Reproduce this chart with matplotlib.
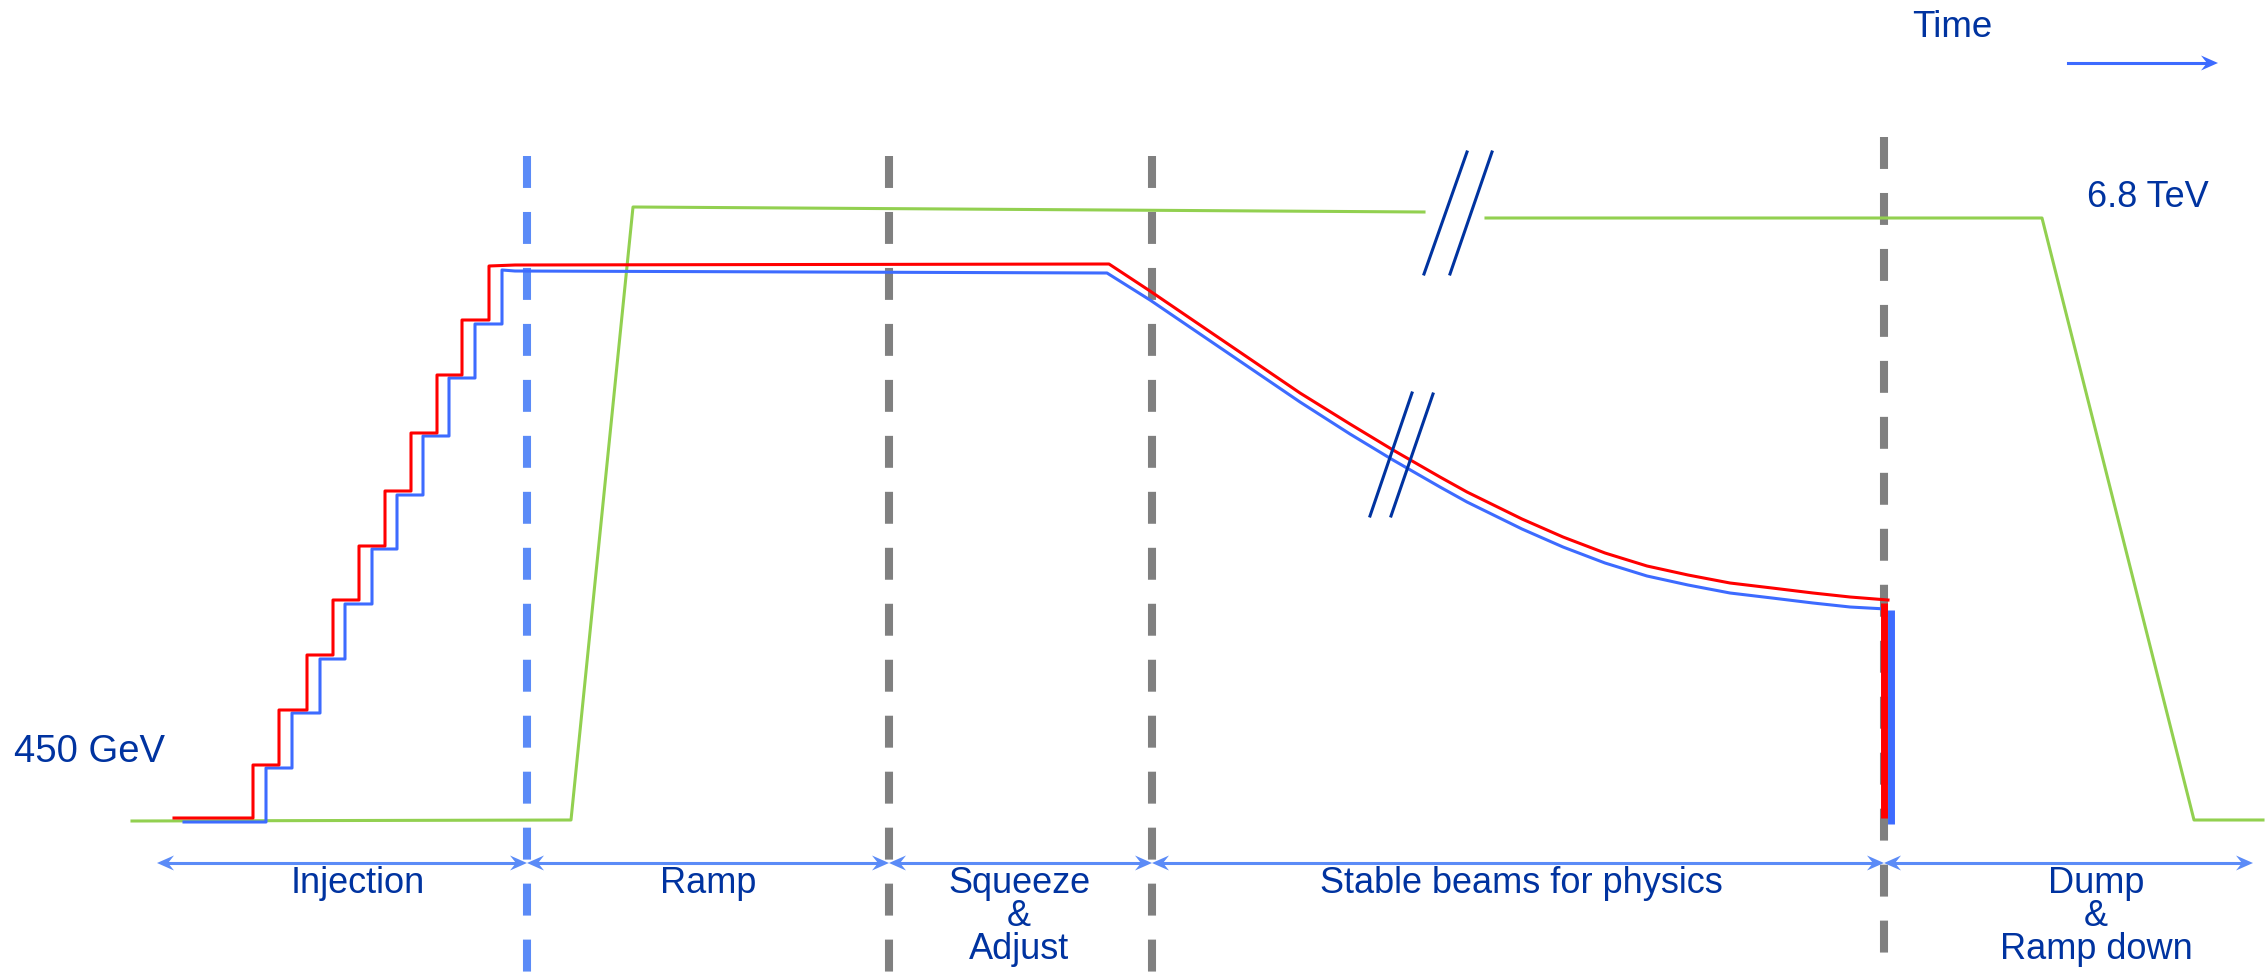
import matplotlib
matplotlib.use('Agg')
import matplotlib.pyplot as plt

plt.rcParams['font.family'] = ['Liberation Sans', 'DejaVu Sans']
plt.rcParams['lines.scale_dashes'] = False

# schematic of an LHC fill, drawn in picture units (x = time, y = downwards)
TXT = '#0033A0'
GREEN = '#92D050'
RED = '#FF0000'
BLUE = '#3D6BFF'
LBLUE = '#5B8BF7'
GRAY = '#808080'

# magnet energy (green), split by the time break
energy_a_x = [132, 571, 633, 1424]
energy_a_y = [821, 820, 207, 212]
energy_b_x = [1486, 2042, 2194, 2263]
energy_b_y = [218, 218, 820, 820]

# injection staircases
red_start = 174
red_risers = [253, 279, 307, 333, 359, 385, 411, 437, 462, 489]
red_levels = [818, 765, 710, 655, 600, 546, 491, 433, 375, 320, 266]
blue_start = 184
blue_risers = [266, 292, 320, 345, 372, 397, 423, 449, 475, 502]
blue_levels = [822, 768, 713, 659, 604, 549, 495, 436, 378, 324, 270]

# intensity through ramp, squeeze and stable beams
red_decay_x = [515, 1109, 1150, 1200, 1250, 1300, 1350, 1393, 1440, 1467, 1522,
               1563, 1605, 1647, 1688, 1730, 1772, 1813, 1850, 1888]
red_decay_y = [265, 264, 291, 325, 359, 393, 424, 450, 477, 492, 519,
               537, 553, 566, 575, 583, 588, 593, 597, 600]
blue_decay_x = [515, 1107, 1150, 1200, 1250, 1300, 1350, 1393, 1440, 1467, 1522,
                1563, 1605, 1647, 1688, 1730, 1772, 1813, 1850, 1886]
blue_decay_y = [271, 273, 300, 334, 368, 402, 434, 460, 487, 502, 529,
                547, 563, 576, 585, 593, 598, 603, 607, 609]

# beam dump
dump_red = (1884, 603, 818)
dump_blue = (1891, 610, 824)

# phase boundaries
phase_x = [527, 889, 1152, 1884]
phase_top = [156, 156, 156, 137]
phase_bottom = [973, 973, 973, 954]
phase_col = [LBLUE, GRAY, GRAY, GRAY]

phase_edges = [157, 527, 889, 1152, 1884, 2253]
phase_names = [['Injection'], ['Ramp'], ['Squeeze', '&', 'Adjust'],
               ['Stable beams for physics'], ['Dump', '&', 'Ramp down']]
label_x = [358, 708, 1019, 1521, 2096]
arrow_y = 863

# break marks
breaks = [((1424, 274), (1467, 152)), ((1450, 274), (1492, 152)),
          ((1370, 516), (1412, 393)), ((1391, 516), (1433, 394))]


def staircase(start, risers, levels):
    xs = [start]
    ys = [levels[0]]
    for i, r in enumerate(risers):
        xs += [r, r]
        ys += [levels[i], levels[i + 1]]
    return xs, ys


def head(ax, x, y, d, color, L=17, W=7.5):
    # stealth style arrow head pointing in direction d (+1 right, -1 left)
    ax.fill([x, x - d * L, x - d * 0.65 * L, x - d * L],
            [y, y - W, y, y + W], color=color, lw=0, zorder=6)


fig = plt.figure(figsize=(22.67, 9.73), dpi=100)
ax = fig.add_axes([0, 0, 1, 1])
ax.set_xlim(0, 2267)
ax.set_ylim(973, 0)
ax.axis('off')

for x, t, b, c in zip(phase_x, phase_top, phase_bottom, phase_col):
    ax.plot([x, x], [t, b], color=c, lw=5.8, dashes=(23, 17.3),
            solid_capstyle='butt', dash_capstyle='butt', zorder=1)

ax.plot(energy_a_x, energy_a_y, color=GREEN, lw=2.2, zorder=2)
ax.plot(energy_b_x, energy_b_y, color=GREEN, lw=2.2, zorder=2)

rx, ry = staircase(red_start, red_risers, red_levels)
bx, by = staircase(blue_start, blue_risers, blue_levels)
ax.plot(bx + blue_decay_x, by + blue_decay_y, color=BLUE, lw=2.2,
        solid_joinstyle='round', zorder=3)
ax.plot(rx + red_decay_x, ry + red_decay_y, color=RED, lw=2.2,
        solid_joinstyle='round', zorder=4)

ax.plot([dump_blue[0]] * 2, dump_blue[1:], color=BLUE, lw=5, solid_capstyle='butt', zorder=3)
ax.plot([dump_red[0]] * 2, dump_red[1:], color=RED, lw=5, solid_capstyle='butt', zorder=4)

for (x0, y0), (x1, y1) in breaks:
    ax.plot([x0, x1], [y0, y1], color=TXT, lw=2.2, zorder=5)

for i in range(len(phase_names)):
    x0, x1 = phase_edges[i], phase_edges[i + 1]
    ax.plot([x0 + 8, x1 - 8], [arrow_y, arrow_y], color=LBLUE, lw=2.2, zorder=5)
    head(ax, x0, arrow_y, -1, LBLUE)
    head(ax, x1, arrow_y, 1, LBLUE)
    for j, line in enumerate(phase_names[i]):
        ax.text(label_x[i], 893 + 33 * j, line, ha='center', va='baseline',
                fontsize=26, color=TXT)

ax.text(14, 762, '450 GeV', ha='left', va='baseline', fontsize=27.5, color=TXT)
ax.text(2087, 207, '6.8 TeV', ha='left', va='baseline', fontsize=26, color=TXT)
ax.text(1952, 37, 'Time', ha='center', va='baseline', fontsize=26.5, color=TXT)
ax.plot([2068, 2210], [63, 63], color=BLUE, lw=2.2)
head(ax, 2218, 63, 1, BLUE)

fig.savefig('out.png', dpi=100)
